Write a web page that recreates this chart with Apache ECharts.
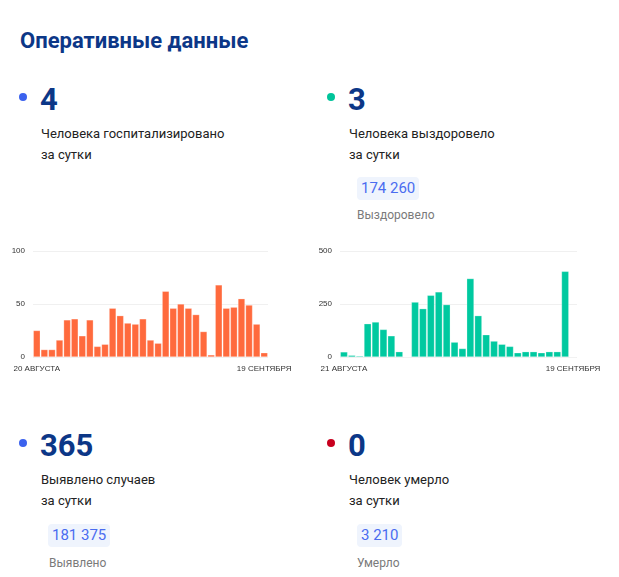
<!DOCTYPE html>
<html lang="ru">
<head>
<meta charset="UTF-8">
<title>Оперативные данные</title>
<script src="https://cdn.jsdelivr.net/npm/echarts@6/dist/echarts.min.js"></script>
<style>
    body { margin: 0; background: #fff; font-family: Roboto, sans-serif; width: 619px; height: 577px; position: relative; overflow: hidden; }
    .abs { position: absolute; }
    h1 { position: absolute; left: 20px; top: 28px; margin: 0; font-size: 22px; font-weight: 700; color: #0c3787; }
    .dot { position: absolute; width: 8px; height: 8px; border-radius: 50%; }
    .num { position: absolute; font-size: 31px; font-weight: 700; color: #0c3787; line-height: 1; }
    .lbl { position: absolute; font-size: 13px; color: #222; line-height: 21px; }
    .badge { position: absolute; background: #eff4fd; color: #4a6cf0; font-size: 15px; padding: 2px 4px; border-radius: 4px; line-height: 19px; }
    .sub { position: absolute; font-size: 12px; color: #7a7a7a; }
</style>
</head>
<body>
<h1>Оперативные данные</h1>

<div class="dot" style="left:19px; top:93px; background:#3b62ee;"></div>
<div class="num" style="left:40px; top:84px;">4</div>
<div class="lbl" style="left:41px; top:123px;">Человека госпитализировано<br>за сутки</div>

<div class="dot" style="left:327px; top:93px; background:#00c49a;"></div>
<div class="num" style="left:348px; top:84px;">3</div>
<div class="lbl" style="left:349px; top:123px;">Человека выздоровело<br>за сутки</div>
<div class="badge" style="left:357px; top:177px;">174 260</div>
<div class="sub" style="left:357px; top:208px;">Выздоровело</div>

<div id="hosp" class="abs" style="left:0; top:240px; width:305px; height:140px;"></div>
<div id="recov" class="abs" style="left:305px; top:240px; width:305px; height:140px;"></div>

<div class="dot" style="left:19px; top:439px; background:#3b62ee;"></div>
<div class="num" style="left:40px; top:430px;">365</div>
<div class="lbl" style="left:41px; top:469px;">Выявлено случаев<br>за сутки</div>
<div class="badge" style="left:48px; top:524px;">181 375</div>
<div class="sub" style="left:49px; top:556px;">Выявлено</div>

<div class="dot" style="left:327px; top:439px; background:#c8001e;"></div>
<div class="num" style="left:348px; top:430px;">0</div>
<div class="lbl" style="left:349px; top:469px;">Человек умерло<br>за сутки</div>
<div class="badge" style="left:357px; top:524px;">3 210</div>
<div class="sub" style="left:357px; top:556px;">Умерло</div>

<script type="text/javascript">
    // hospitalized per day, 20 Aug .. 19 Sep
    const hospValues = [25, 7, 7, 16, 35, 36, 20, 35, 10, 12, 46, 39, 32, 31, 36, 16, 13, 62, 46, 50, 46, 40, 24, 2, 68, 46, 47, 55, 49, 31, 4];
    const hospDays = hospValues.map((v, i) => i);
    const hospLabels = ['20 АВГУСТА', '19 СЕНТЯБРЯ'];

    // recovered per day, 21 Aug .. 19 Sep
    const recovValues = [24, 8, 5, 157, 165, 130, 100, 25, 0, 259, 228, 291, 307, 247, 70, 40, 370, 195, 105, 75, 60, 50, 20, 25, 25, 20, 25, 25, 404, 2];
    const recovDays = recovValues.map((v, i) => i);
    const recovLabels = ['21 АВГУСТА', '19 СЕНТЯБРЯ'];

    function makeOption(days, values, labels, max, color, left, right) {
        const last = days.length - 1;
        return {
            animation: false,
            grid: { left: left, right: right, top: 11, bottom: 23 },
            xAxis: {
                type: 'category',
                data: days,
                axisLine: { show: false },
                axisTick: { show: false },
                axisLabel: {
                    interval: 0,
                    fontSize: 8,
                    color: '#333',
                    margin: 8,
                    formatter: function (v, i) {
                        if (i === 0) return labels[0];
                        if (i === last) return labels[1];
                        return '';
                    }
                }
            },
            yAxis: {
                type: 'value',
                min: 0,
                max: max,
                interval: max / 2,
                splitLine: { lineStyle: { color: '#f0f0f0' } },
                axisLabel: { fontSize: 8, color: '#333', margin: 8 }
            },
            series: [{
                type: 'bar',
                data: values,
                barCategoryGap: '8%',
                itemStyle: { color: color, borderColor: 'rgba(255,255,255,0.5)', borderWidth: 0.5 }
            }]
        };
    }

    let hospChart = echarts.init(document.getElementById('hosp'));
    hospChart.setOption(makeOption(hospDays, hospValues, hospLabels, 100, '#ff6a3d', 33, 37));

    let recovChart = echarts.init(document.getElementById('recov'));
    recovChart.setOption(makeOption(recovDays, recovValues, recovLabels, 500, '#00c9a0', 35, 33));
</script>
</body>
</html>
